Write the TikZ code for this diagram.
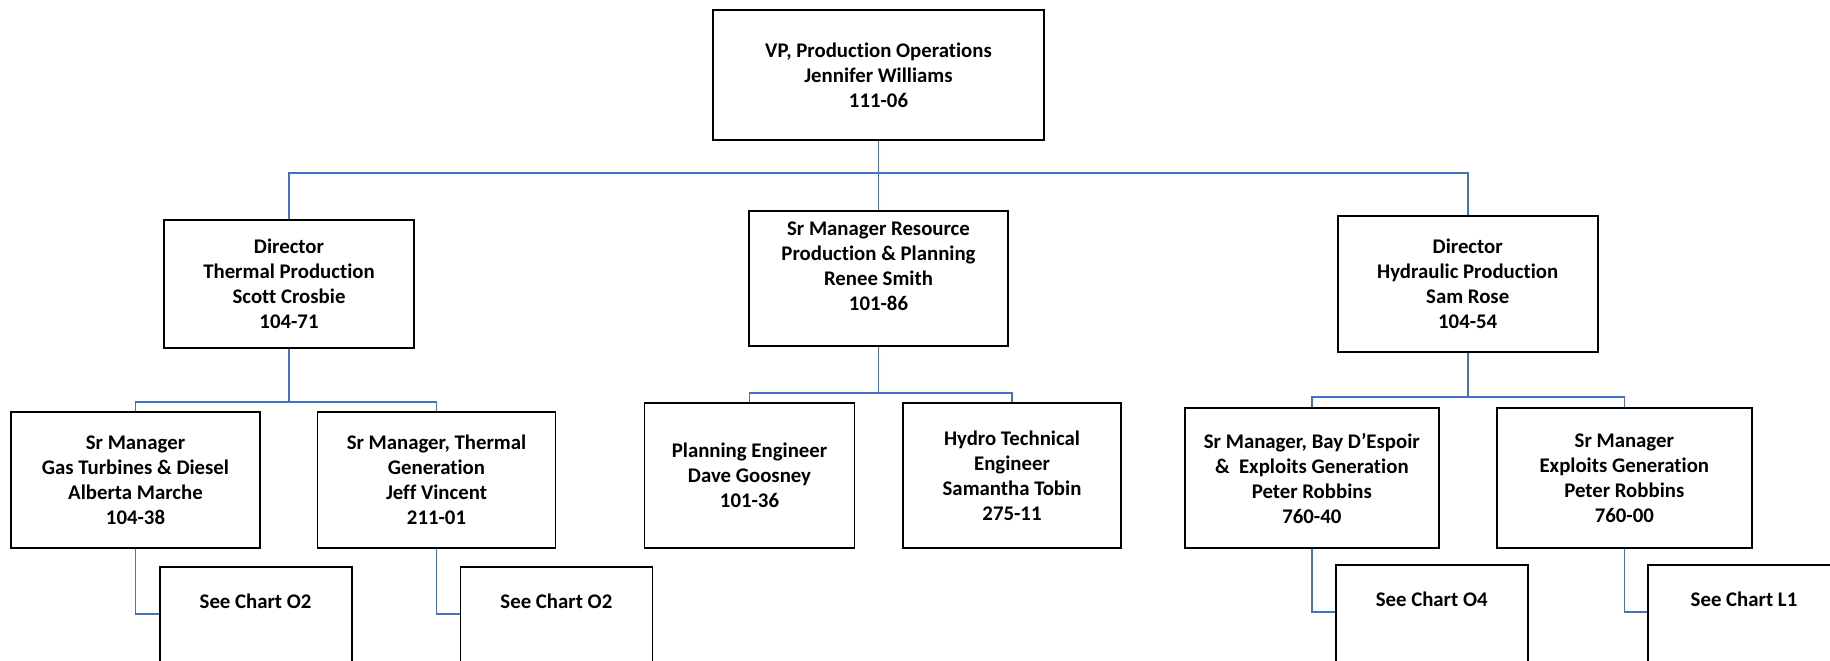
\documentclass[tikz,border=0pt]{standalone}
\usepackage{fontspec}
\setmainfont{Carlito}[Ligatures=NoCommon]
\usepackage{tikz}
\usetikzlibrary{positioning,calc}
\definecolor{linkblue}{HTML}{4472C4}
\tikzset{
  box/.style  ={draw, line width=0.9pt, align=center, inner sep=0pt,
                font=\fontsize{10.4}{12.5}\selectfont\bfseries},
  chart/.style={box, minimum width=96pt, minimum height=59pt},
  link/.style ={draw=linkblue, line width=0.8pt},
}

\begin{document}
\begin{tikzpicture}[x=0.5pt, y=-0.5pt]

\clip (0,0) rectangle (1830,660);

\node[box, minimum width=165.5pt, minimum height=65pt] (vp) at (878.5,75)
  {VP, Production Operations\\Jennifer Williams\\111-06};

\node[box, minimum width=125pt, minimum height=64pt] (thermal) at (289,284)
  {Director\\Thermal Production\\Scott Crosbie\\104-71};
\node[box, minimum width=129.5pt, minimum height=67.5pt] (resource) at (878.5,278.5)
  {Sr Manager Resource\\Production \& Planning\\Renee Smith\\101-86\\\mbox{}};
\node[box, minimum width=130pt, minimum height=68pt] (hydraulic) at (1467.7,284)
  {Director\\Hydraulic Production\\Sam Rose\\104-54};

\node[box, minimum width=124.5pt, minimum height=68pt] (gasturb) at (135.5,480)
  {Sr Manager\\Gas Turbines \& Diesel\\Alberta Marche\\104-38};
\node[box, minimum width=119pt, minimum height=68pt] (thermgen) at (436.5,480)
  {Sr Manager, Thermal\\Generation\\Jeff Vincent\\211-01};
\node[box, minimum width=105pt, minimum height=72.5pt] (planeng) at (749.5,475.5)
  {Planning Engineer\\Dave Goosney\\101-36};
\node[box, minimum width=109pt, minimum height=72.5pt] (hydroeng) at (1012,475.5)
  {Hydro Technical\\Engineer\\Samantha Tobin\\275-11};
\node[box, minimum width=127pt, minimum height=70pt] (bayesp) at (1311.8,478)
  {Sr Manager, Bay D’Espoir\\\&\ \ Exploits Generation\\Peter Robbins\\760-40};
\node[box, minimum width=127.5pt, minimum height=70pt] (exploits) at (1624.3,478)
  {Sr Manager\\Exploits Generation\\Peter Robbins\\760-00};

\node[chart, anchor=north] (chartA) at (255.6,566)
  {See Chart O2\\\mbox{}\\\mbox{}};
\node[chart, anchor=north] (chartB) at (556.4,566)
  {See Chart O2\\\mbox{}\\\mbox{}};
\node[chart, anchor=north] (chartC) at (1431.7,564)
  {See Chart O4\\\mbox{}\\\mbox{}};
\node[chart, anchor=north] (chartD) at (1744,564)
  {See Chart L1\\\mbox{}\\\mbox{}};

\draw[link] (vp.south) -- ++(0,32) coordinate (bus);
\draw[link] (bus) -| (thermal.north);
\draw[link] (bus) -| (hydraulic.north);
\draw[link] (bus) -- (resource.north);

\draw[link] (thermal.south) -- ++(0,53) coordinate (busT) -| (gasturb.north);
\draw[link] (busT) -| (thermgen.north);
\draw[link] (resource.south) -- ++(0,46) coordinate (busR) -| (planeng.north);
\draw[link] (busR) -| (hydroeng.north);
\draw[link] (hydraulic.south) -- ++(0,44) coordinate (busH) -| (bayesp.north);
\draw[link] (busH) -| (exploits.north);

\draw[link] (gasturb.south) |- ([yshift=-24pt]chartA.north west);
\draw[link] (thermgen.south) |- ([yshift=-24pt]chartB.north west);
\draw[link] (bayesp.south) |- ([yshift=-24pt]chartC.north west);
\draw[link] (exploits.south) |- ([yshift=-24pt]chartD.north west);

\end{tikzpicture}
\end{document}
